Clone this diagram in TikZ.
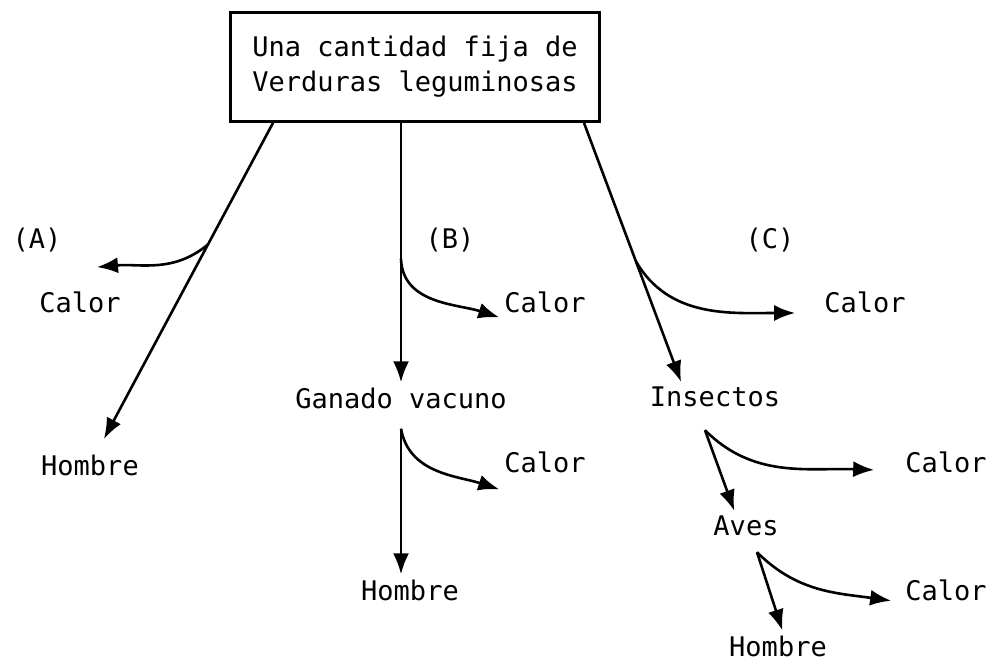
\documentclass[tikz,border=0pt]{standalone}
\usepackage{fontspec}
\newfontfamily\flowfont{DejaVu Sans Mono}
\usetikzlibrary{arrows.meta, positioning}

\tikzset{
  lbl/.style={font=\flowfont\fontsize{27}{35}\selectfont, inner sep=3pt},
  flow/.style={line width=2.6pt, -{Latex[length=21pt,width=16pt]}, shorten >=2pt},
}

\begin{document}
\begin{tikzpicture}[x=1pt,y=1pt]
    \useasboundingbox (0,0) rectangle (994,664);

    \node [lbl, draw, line width=2.8pt, align=center, minimum width=369pt, minimum height=109pt] (src) at (415,597) {Una cantidad fija de\\Verduras leguminosas};

    % (A)
    \node [lbl] (labA) at (37,424) {(A)};
    \node [lbl] (calA) at (80,362) {Calor};
    \node [lbl] (homA) at (90,199) {Hombre};
    % (B)
    \node [lbl] (labB) at (450,424) {(B)};
    \node [lbl] (calB1) at (545,362) {Calor};
    \node [lbl] (gan) at (401,266) {Ganado vacuno};
    \node [lbl] (calB2) at (545,202) {Calor};
    \node [lbl] (homB) at (410,74) {Hombre};
    % (C)
    \node [lbl] (labC) at (770,424) {(C)};
    \node [lbl] (calC1) at (865,362) {Calor};
    \node [lbl] (ins) at (715,267) {Insectos};
    \node [lbl] (calC2) at (946,202) {Calor};
    \node [lbl] (aves) at (746,138) {Aves};
    \node [lbl] (calC3) at (946,74) {Calor};
    \node [lbl] (homC) at (778,18) {Hombre};

    \coordinate (sA) at ([xshift=-142pt]src.south);
    \coordinate (sB) at ([xshift=-14pt]src.south);
    \coordinate (sC) at ([xshift=169pt]src.south);
    \coordinate (ganS) at ([yshift=-17pt]gan.south);
    \coordinate (insS) at ([xshift=-10pt,yshift=-20pt]ins.south);
    \coordinate (avesS) at ([xshift=11pt,yshift=-13pt]aves.south);

    \draw [flow, shorten >=14pt] (sA) -- coordinate[pos=0.37] (brA) (homA);
    \draw [flow] (sB) -- coordinate[pos=0.52] (brB) (gan);
    \draw [flow] (sC) -- coordinate[pos=0.53] (brC) ([xshift=35pt]ins.north west);
    \draw [flow] (ganS) -- (ganS |- homB.north);
    \draw [flow] (insS) -- ([xshift=-11pt]aves.north);
    \draw [flow] (avesS) -- ([xshift=5pt]homC.north);

    \draw [flow] (brA) to[out=220,in=5] ([xshift=15pt,yshift=21pt]calA.north);
    \draw [flow] (brB) to[out=-88,in=162] ([yshift=-16pt]calB1.west);
    \draw [flow] (ganS) to[out=-80,in=162] ([yshift=-28pt]calB2.west);
    \draw [flow] (brC) to[out=-60,in=180] ([xshift=-24pt,yshift=-11pt]calC1.west);
    \draw [flow] (insS) to[out=-45,in=178] ([xshift=-26pt,yshift=-8pt]calC2.west);
    \draw [flow] (avesS) to[out=-45,in=172] ([xshift=-9pt,yshift=-11pt]calC3.west);
\end{tikzpicture}
\end{document}
